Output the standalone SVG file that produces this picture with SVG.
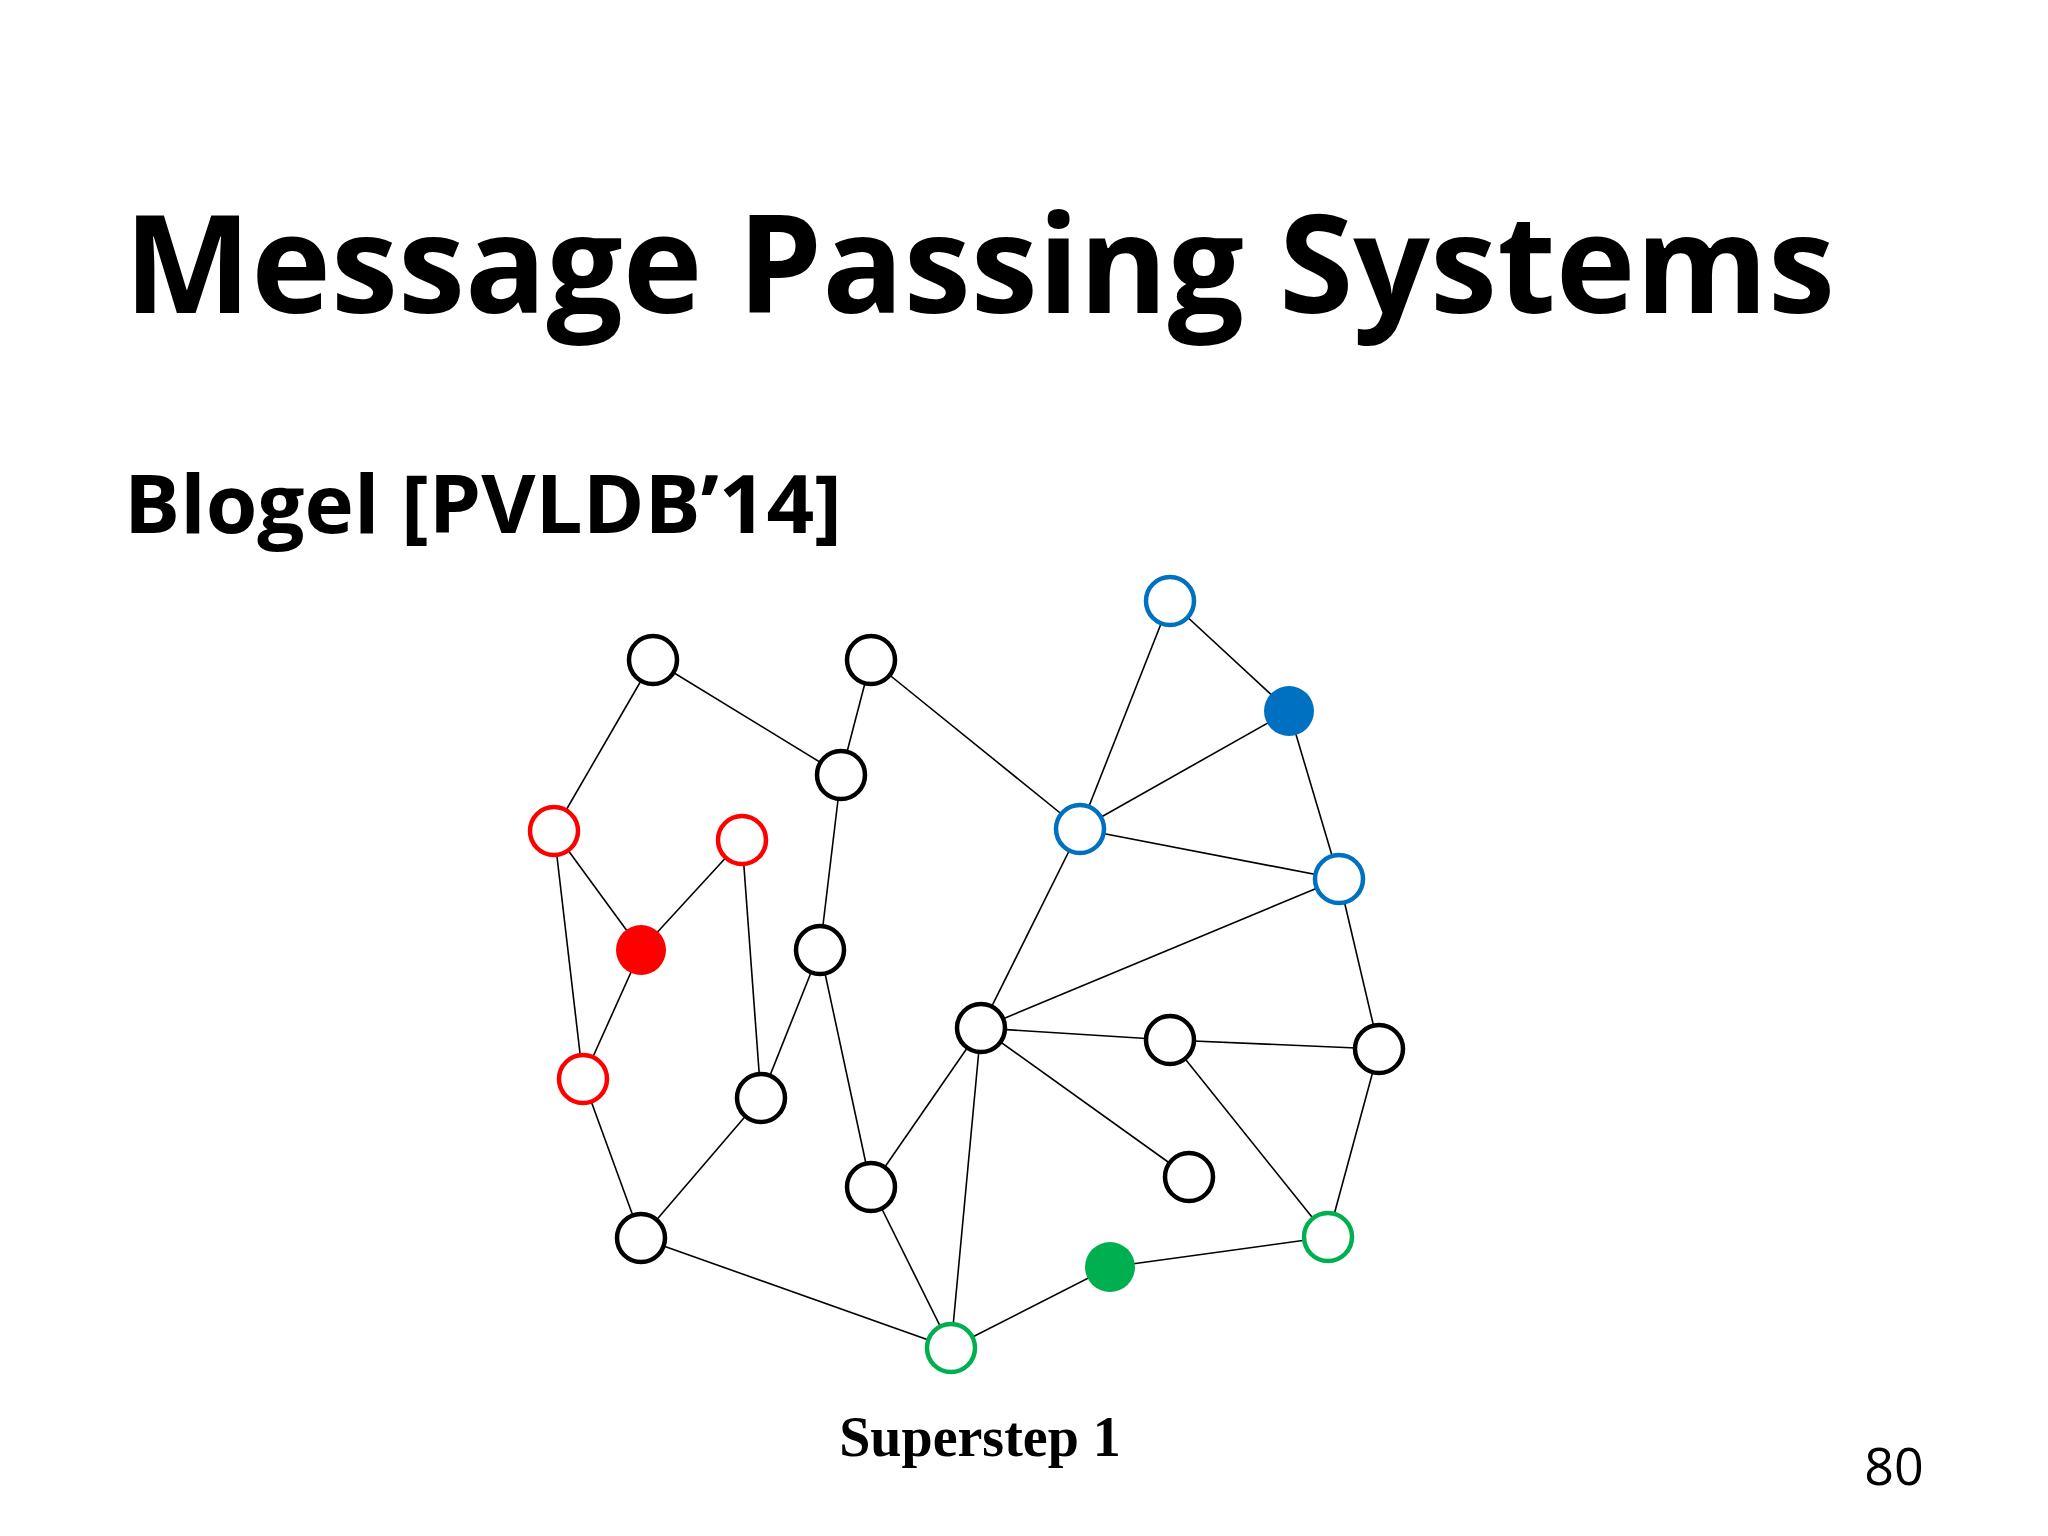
<svg xmlns="http://www.w3.org/2000/svg" width="2048" height="1536" viewBox="0 0 2048 1536">
<style>
.n{fill:#fff;stroke-width:4.5}
.k{stroke:#000}.r{stroke:#f00}.b{stroke:#0070c0}.g{stroke:#00b050}
#edges line{stroke:#000;stroke-width:1.6}
</style>
<rect width="2048" height="1536" fill="#fff"/>
<text x="124" y="313" font-family="Open Sans, Liberation Sans, sans-serif" font-weight="bold" font-size="137" textLength="1711" lengthAdjust="spacingAndGlyphs">Message Passing Systems</text>
<text x="124" y="533" font-family="Open Sans, Liberation Sans, sans-serif" font-weight="bold" font-size="81" textLength="718" lengthAdjust="spacingAndGlyphs">Blogel [PVLDB’14]</text>
<g id="edges">
<line x1="653" y1="660" x2="841" y2="775"/>
<line x1="653" y1="660" x2="554" y2="831"/>
<line x1="871" y1="660" x2="841" y2="775"/>
<line x1="871" y1="660" x2="1080" y2="829"/>
<line x1="841" y1="775" x2="820" y2="950"/>
<line x1="554" y1="831" x2="641" y2="950"/>
<line x1="554" y1="831" x2="583" y2="1079"/>
<line x1="742" y1="840" x2="641" y2="950"/>
<line x1="742" y1="840" x2="761" y2="1098"/>
<line x1="641" y1="950" x2="583" y2="1079"/>
<line x1="820" y1="950" x2="761" y2="1098"/>
<line x1="820" y1="950" x2="871" y2="1187"/>
<line x1="583" y1="1079" x2="641" y2="1238"/>
<line x1="761" y1="1098" x2="641" y2="1238"/>
<line x1="641" y1="1238" x2="951" y2="1348"/>
<line x1="871" y1="1187" x2="951" y2="1348"/>
<line x1="871" y1="1187" x2="981" y2="1028"/>
<line x1="951" y1="1348" x2="981" y2="1028"/>
<line x1="951" y1="1348" x2="1110" y2="1267"/>
<line x1="1110" y1="1267" x2="1328" y2="1237"/>
<line x1="981" y1="1028" x2="1080" y2="829"/>
<line x1="981" y1="1028" x2="1339" y2="879"/>
<line x1="981" y1="1028" x2="1170" y2="1040"/>
<line x1="981" y1="1028" x2="1189" y2="1177"/>
<line x1="1170" y1="1040" x2="1379" y2="1049"/>
<line x1="1170" y1="1040" x2="1328" y2="1237"/>
<line x1="1379" y1="1049" x2="1328" y2="1237"/>
<line x1="1379" y1="1049" x2="1339" y2="879"/>
<line x1="1339" y1="879" x2="1080" y2="829"/>
<line x1="1080" y1="829" x2="1289" y2="711"/>
<line x1="1080" y1="829" x2="1170" y2="601"/>
<line x1="1170" y1="601" x2="1289" y2="711"/>
<line x1="1289" y1="711" x2="1339" y2="879"/>
</g>
<g id="A"><circle class="n k" cx="653" cy="660" r="24"/></g>
<g id="B"><circle class="n k" cx="871" cy="660" r="24"/></g>
<g id="C"><circle class="n k" cx="841" cy="775" r="24"/></g>
<g id="D"><circle class="n r" cx="554" cy="831" r="24"/></g>
<g id="E"><circle class="n r" cx="742" cy="840" r="24"/></g>
<g id="F"><circle cx="641" cy="950" r="25" fill="#f00"/></g>
<g id="G"><circle class="n k" cx="820" cy="950" r="24"/></g>
<g id="H"><circle class="n r" cx="583" cy="1079" r="24"/></g>
<g id="I"><circle class="n k" cx="761" cy="1098" r="24"/></g>
<g id="J"><circle class="n k" cx="641" cy="1238" r="24"/></g>
<g id="K"><circle class="n k" cx="871" cy="1187" r="24"/></g>
<g id="L"><circle class="n g" cx="951" cy="1348" r="24"/></g>
<g id="M"><circle cx="1110" cy="1267" r="25" fill="#00b050"/></g>
<g id="N"><circle class="n g" cx="1328" cy="1237" r="24"/></g>
<g id="O"><circle class="n k" cx="1189" cy="1177" r="24"/></g>
<g id="P"><circle class="n k" cx="1170" cy="1040" r="24"/></g>
<g id="Q"><circle class="n k" cx="1379" cy="1049" r="24"/></g>
<g id="R"><circle class="n k" cx="981" cy="1028" r="24"/></g>
<g id="S"><circle class="n b" cx="1080" cy="829" r="24"/></g>
<g id="T"><circle class="n b" cx="1339" cy="879" r="24"/></g>
<g id="U"><circle cx="1289" cy="711" r="25" fill="#0070c0"/></g>
<g id="V"><circle class="n b" cx="1170" cy="601" r="24"/></g>
<text x="980" y="1456" text-anchor="middle" font-family="Liberation Serif, serif" font-weight="bold" font-size="56">Superstep 1</text>
<text x="1894" y="1485" text-anchor="middle" font-family="Open Sans, Liberation Sans, sans-serif" font-size="52">80</text>
</svg>
